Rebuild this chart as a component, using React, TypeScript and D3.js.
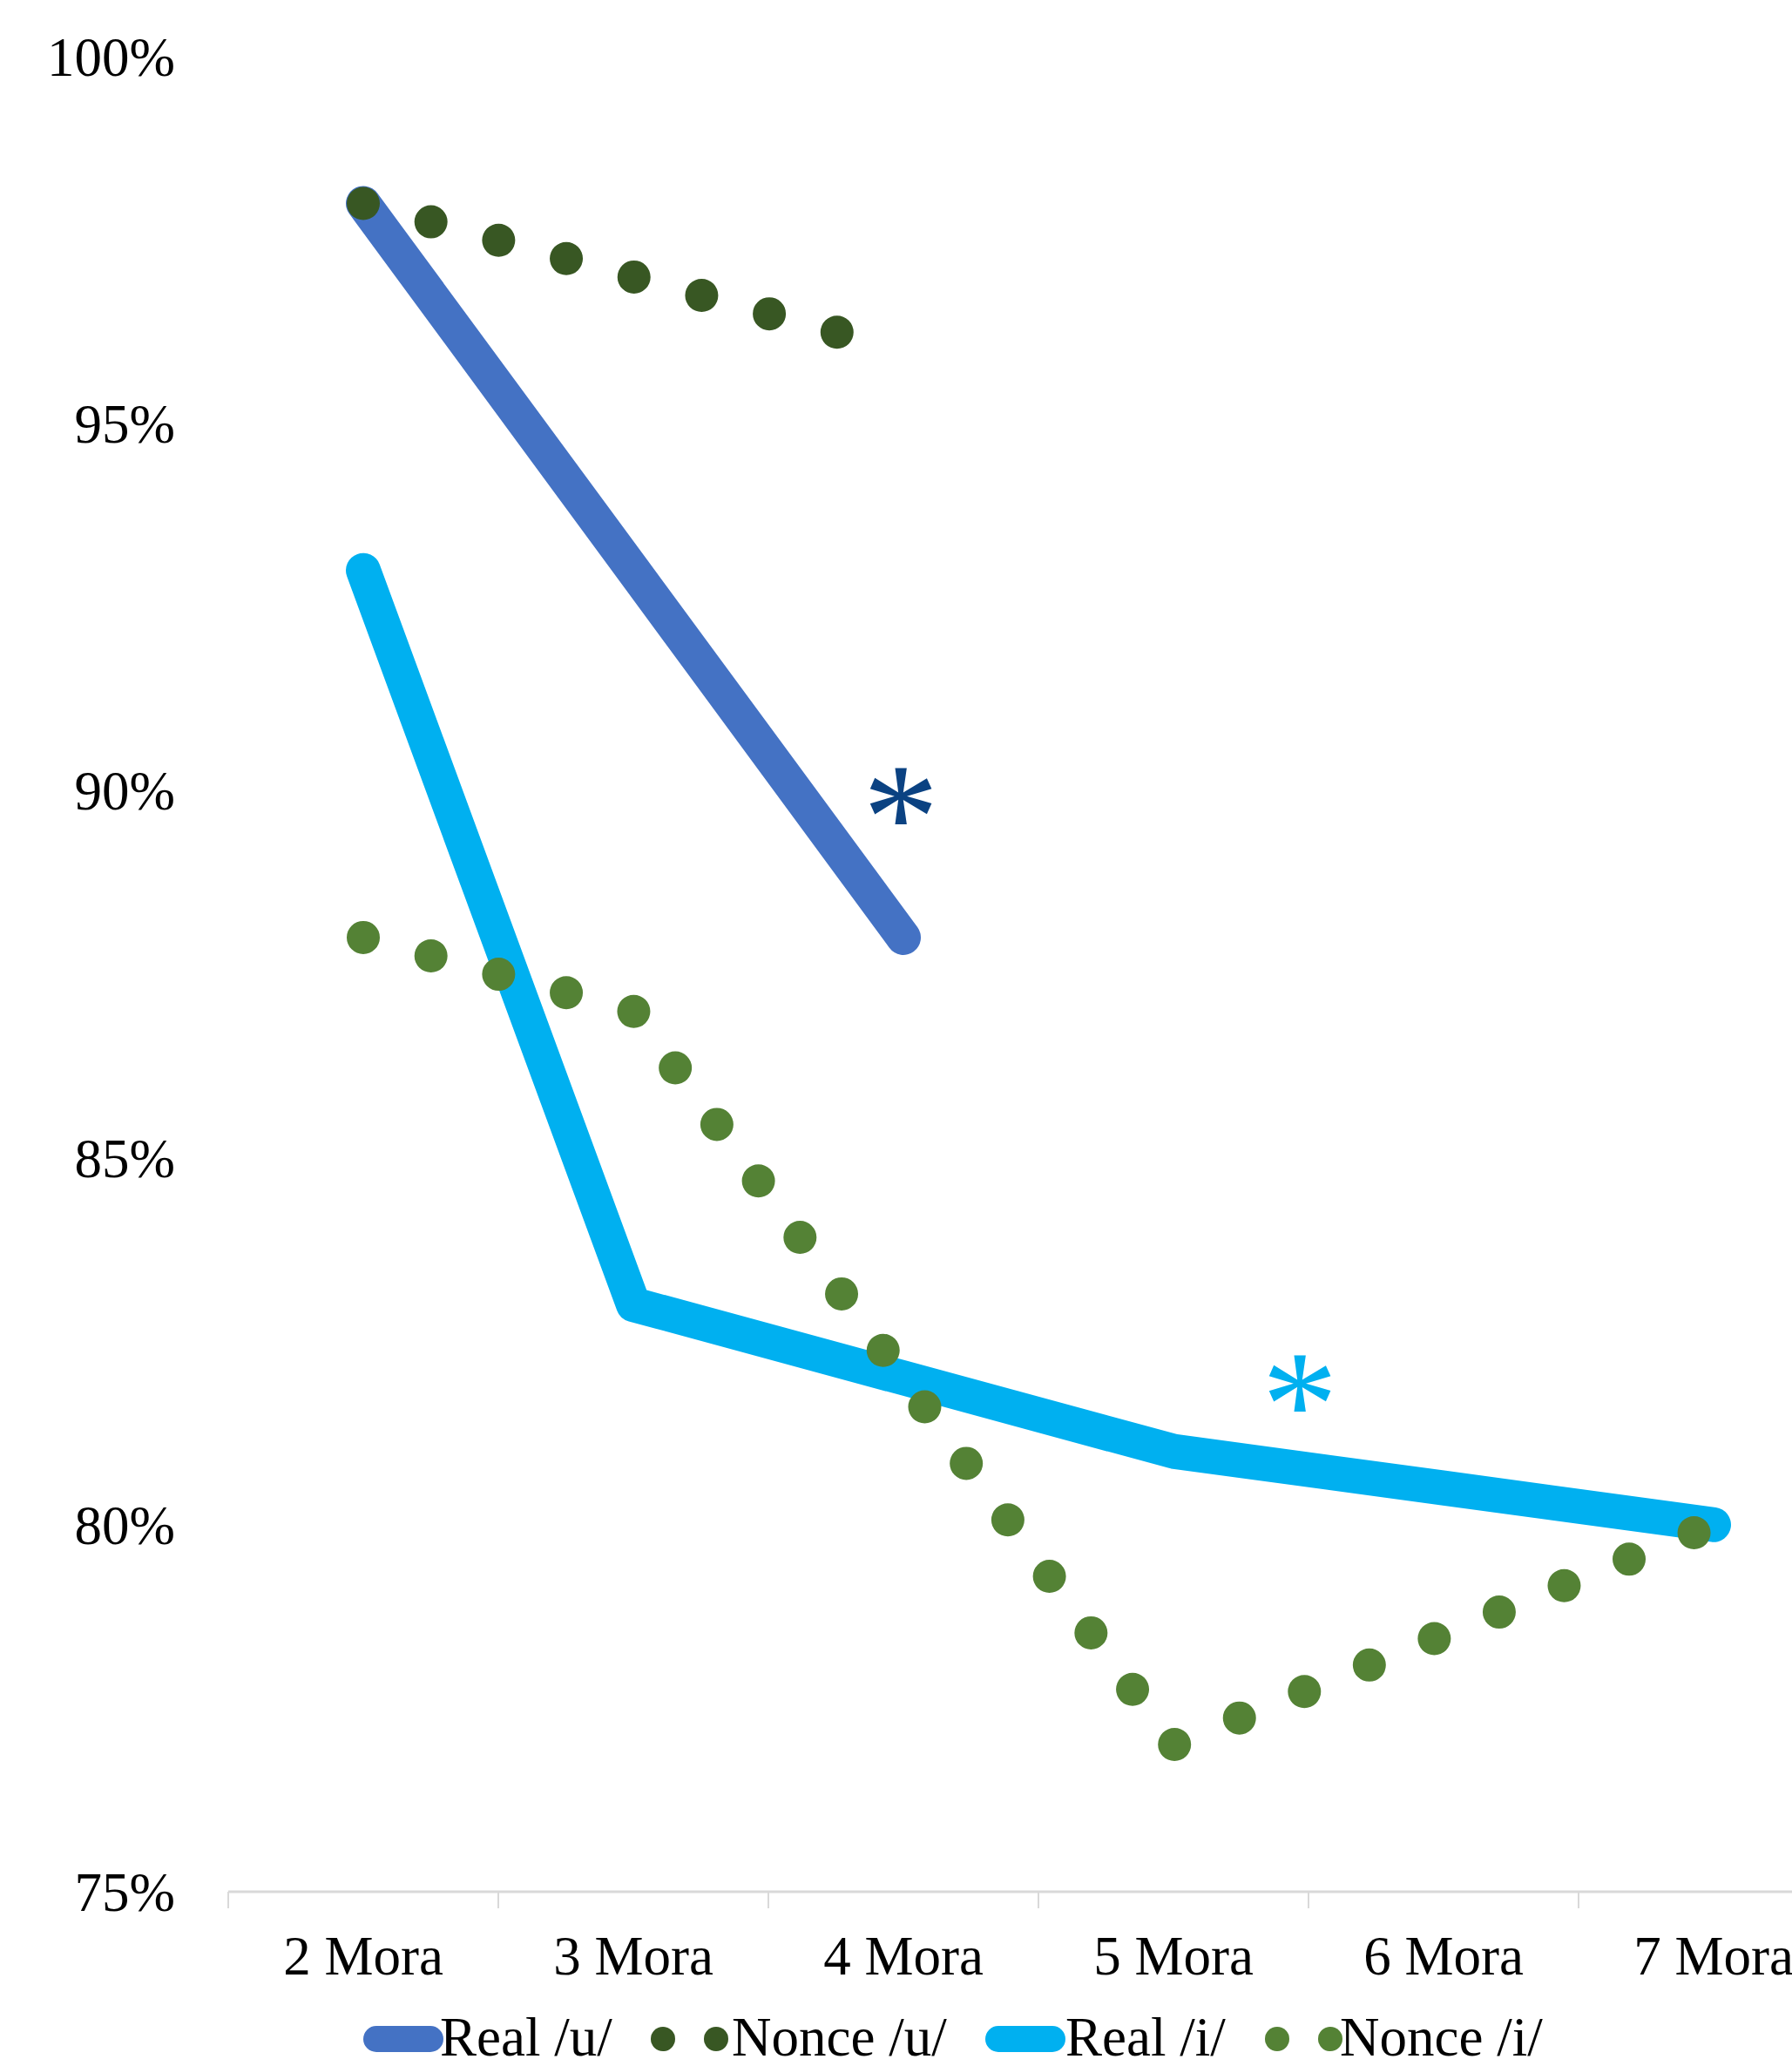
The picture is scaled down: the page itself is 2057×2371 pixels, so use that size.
import React from 'react';
import * as d3 from 'd3';

// chart values
const categories = ['2 Mora', '3 Mora', '4 Mora', '5 Mora', '6 Mora', '7 Mora'];
const realU: (number | null)[] = [98, 93, 88, null, null, null];
const nonceU: (number | null)[] = [98, 97, 96, null, null, null];
const realI: (number | null)[] = [93, 83, 82, 81, 80.5, 80];
const nonceI: (number | null)[] = [88, 87, 82, 77, 78.5, 80];
const yTicks = [75, 80, 85, 90, 95, 100];
const legendLabels = ['Real /u/', 'Nonce /u/', 'Real /i/', 'Nonce /i/'];

const W = 2057;
const H = 2371;
const FONT = '"Liberation Serif", "Times New Roman", serif';

const x = d3.scaleBand<string>().domain(categories).range([262, 262 + 310 * 6]).padding(0);
const y = d3.scaleLinear().domain([75, 100]).range([2171, 65]);
const cx = (c: string) => (x(c) as number) + x.bandwidth() / 2;

const line = d3
  .line<number | null>()
  .defined((d) => d != null)
  .x((_, i) => cx(categories[i]))
  .y((d) => y(d as number));

const series = [
  { name: legendLabels[0], values: realU, color: '#4472C4', dotted: false },
  { name: legendLabels[1], values: nonceU, color: '#385723', dotted: true },
  { name: legendLabels[2], values: realI, color: '#00B0F0', dotted: false },
  { name: legendLabels[3], values: nonceI, color: '#548235', dotted: true },
];

// legend layout (swatch start, text start)
const legendItems = [
  { sx: 417, tx: 505 },
  { sx: 761, tx: 840 },
  { sx: 1131, tx: 1223 },
  { sx: 1466, tx: 1538 },
];

const STAR_FONT = '"Liberation Serif", "Times New Roman", serif';

export default function App() {
  const axisY = y(75);
  const tickXs = [...categories.map((c) => x(c) as number), 262 + 310 * 6];

  return (
    <svg
      width={W}
      height={H}
      style={{ position: 'absolute', left: 0, top: 0, background: '#fff' }}
      fontFamily={FONT}
    >
      <rect width={W} height={H} fill="#fff" />

      {/* y labels */}
      {yTicks.map((t) => (
        <text key={t} x={201} y={y(t)} dy="0.35em" textAnchor="end" fontSize={63} fill="#000">
          {t}%
        </text>
      ))}

      {/* x axis */}
      <line x1={262} x2={W} y1={axisY} y2={axisY} stroke="#d9d9d9" strokeWidth={3} />
      {tickXs.map((tx, i) => (
        <line key={i} x1={tx} x2={tx} y1={axisY} y2={axisY + 19} stroke="#d9d9d9" strokeWidth={2} />
      ))}
      {categories.map((c) => (
        <text key={c} x={cx(c)} y={2266} textAnchor="middle" fontSize={63} fill="#000">
          {c}
        </text>
      ))}

      {/* series */}
      {series.map((s) => (
        <path
          key={s.name}
          d={line(s.values) || ''}
          fill="none"
          stroke={s.color}
          strokeWidth={s.dotted ? 38 : 40}
          strokeLinecap="round"
          strokeLinejoin="round"
          strokeDasharray={s.dotted ? '0 80.5' : undefined}
        />
      ))}

      {/* significance marks */}
      <text x={1034} y={y(90) + 90} textAnchor="middle" fontSize={175} fontFamily={STAR_FONT} fill="#0B4282">
        *
      </text>
      <text x={1492} y={y(82) + 90} textAnchor="middle" fontSize={175} fontFamily={STAR_FONT} fill="#00B0F0">
        *
      </text>

      {/* legend */}
      {series.map((s, i) => {
        const it = legendItems[i];
        return (
          <g key={s.name}>
            {s.dotted ? (
              <>
                <circle cx={it.sx} cy={2340} r={14} fill={s.color} />
                <circle cx={it.sx + 61} cy={2340} r={14} fill={s.color} />
              </>
            ) : (
              <line x1={it.sx + 15} x2={it.sx + 77} y1={2340} y2={2340} stroke={s.color} strokeWidth={30} strokeLinecap="round" />
            )}
            <text x={it.tx} y={2359} fontSize={63} fill="#000">
              {s.name}
            </text>
          </g>
        );
      })}
    </svg>
  );
}
